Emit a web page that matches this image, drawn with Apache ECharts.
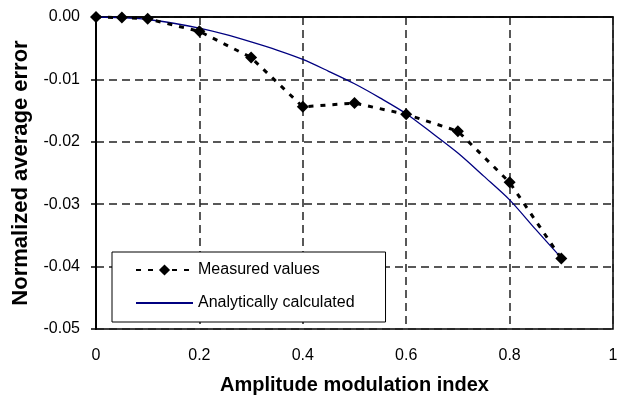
<!DOCTYPE html>
<html>
<head>
<meta charset="utf-8">
<script src="https://cdn.jsdelivr.net/npm/echarts@6/dist/echarts.min.js"></script>
<style>
  html, body { margin: 0; padding: 0; background: #fff; }
  #chart { width: 622px; height: 400px; }
</style>
</head>
<body>
<div id="chart"></div>
<script>
// measured points
var measuredX = [0, 0.05, 0.1, 0.2, 0.3, 0.4, 0.5, 0.6, 0.7, 0.8, 0.9];
var measuredY = [0, -0.0001, -0.0003, -0.0023, -0.0065, -0.0144, -0.0138, -0.0156, -0.0183, -0.0265, -0.0387];

// analytical curve, sampled every 0.05
var analyticX = [0, 0.05, 0.1, 0.15, 0.2, 0.25, 0.3, 0.35, 0.4, 0.45, 0.5, 0.55, 0.6, 0.65, 0.7, 0.75, 0.8, 0.85, 0.9];
var analyticY = [0, -0.0001, -0.0004, -0.001, -0.0018, -0.0028, -0.004, -0.0053, -0.0068, -0.0087, -0.0107, -0.013, -0.0155, -0.0186, -0.0218, -0.0255, -0.0293, -0.034, -0.0386];

var seriesNames = ['Measured values', 'Analytically calculated'];

function pairs(xs, ys) {
    return xs.map(function (x, i) { return [x, ys[i]]; });
}

var font = 'Liberation Sans, Arial, sans-serif';
var gridLine = { show: true, lineStyle: { color: '#222', type: [8, 5], width: 1.5 } };

var chart = echarts.init(document.getElementById('chart'));
chart.setOption({
    animation: false,
    textStyle: { fontFamily: font, color: '#000' },
    grid: {
        left: 96, right: 9, top: 17, bottom: 67,
        show: true, borderColor: '#000', borderWidth: 1.5, backgroundColor: '#fff'
    },
    legend: {
        orient: 'vertical',
        left: 112, top: 252,
        data: [
            { name: seriesNames[0] },
            // line only, no marker for the analytical curve
            { name: seriesNames[1], itemStyle: { color: 'rgba(0,0,0,0)', borderWidth: 0, opacity: 0 } }
        ],
        itemWidth: 57, itemHeight: 14, itemGap: 17,
        padding: [10, 31, 11, 23],
        backgroundColor: '#fff', borderColor: '#000', borderWidth: 1,
        textStyle: { fontFamily: font, fontSize: 16, color: '#000' }
    },
    xAxis: {
        type: 'value', min: 0, max: 1, interval: 0.2,
        name: 'Amplitude modulation index',
        nameLocation: 'middle', nameGap: 46,
        nameTextStyle: { fontFamily: font, fontSize: 20, fontWeight: 'bold', color: '#000' },
        axisLine: { lineStyle: { color: '#000', width: 1.5 } },
        axisTick: { show: false },
        axisLabel: { margin: 19, fontSize: 16, color: '#000', fontFamily: font },
        splitLine: gridLine
    },
    yAxis: {
        type: 'value', min: -0.05, max: 0, interval: 0.01,
        name: 'Normalized average error',
        nameLocation: 'middle', nameGap: 64, nameRotate: 90,
        nameTextStyle: { fontFamily: font, fontSize: 22, fontWeight: 'bold', color: '#000' },
        axisLine: { show: true, lineStyle: { color: '#000', width: 2 } },
        axisTick: { show: true, length: 5, lineStyle: { color: '#000', width: 1.5 } },
        axisLabel: {
            margin: 16, fontSize: 16, color: '#000', fontFamily: font,
            formatter: function (v) { return Number(v).toFixed(2); }
        },
        splitLine: gridLine
    },
    series: [
        {
            name: seriesNames[0],
            type: 'line',
            data: pairs(measuredX, measuredY),
            symbol: 'diamond', symbolSize: 12,
            clip: false,
            itemStyle: { color: '#000' },
            lineStyle: { color: '#000', width: 3, type: [5, 7] },
            z: 3
        },
        {
            name: seriesNames[1],
            type: 'line',
            data: pairs(analyticX, analyticY),
            symbol: 'none',
            smooth: 0.3,
            itemStyle: { color: '#000080' },
            lineStyle: { color: '#000080', width: 1.3 },
            z: 2
        }
    ]
});
</script>
</body>
</html>
